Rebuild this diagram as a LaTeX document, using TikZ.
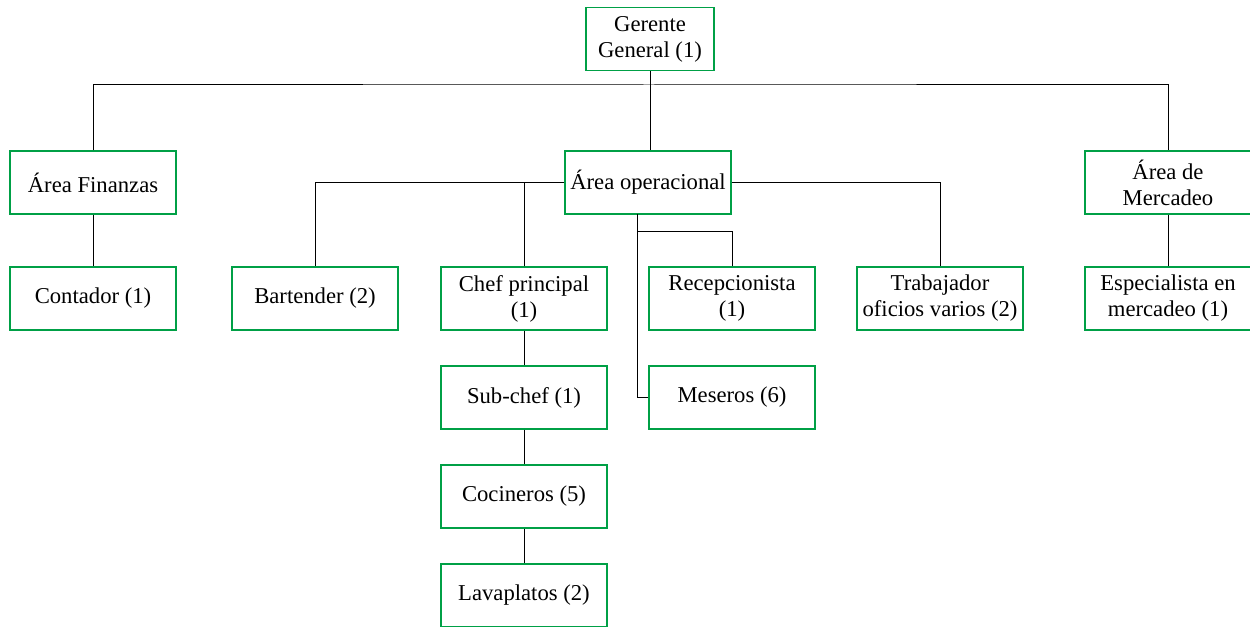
\documentclass[tikz,border=0pt]{standalone}
\usepackage{fontspec}
\setmainfont{Liberation Serif}
\definecolor{boxgreen}{RGB}{0,160,70}

\tikzset{every picture/.style={line width=0.75pt}}
\tikzset{
	puesto/.style={draw=boxgreen, fill=white, line width=0.9pt, minimum width=124.5pt, minimum height=47.25pt, inner sep=0pt, align=center, font=\fontsize{17}{19.5}\selectfont}
}

\begin{document}
\begin{tikzpicture}[x=0.75pt,y=0.75pt,yscale=-1,xscale=1]
	\useasboundingbox (0,0) rectangle (1250,627);

	% Text Node
	\node[puesto, minimum width=96pt] (gerente) at (650,39) {Gerente\\General (1)};
	% Text Node
	\node[puesto] (finanzas) at (93,182.5) {Área Finanzas};
	\node[puesto] (operacional) at (648,182.5) {Área operacional};
	\node[puesto] (mercadeo) at (1168,182.5) {Área de\\Mercadeo};
	% Text Node
	\node[puesto] (contador) at (93,298.5) {Contador (1)};
	\node[puesto] (bartender) at (315,298.5) {Bartender (2)};
	\node[puesto] (chef) at (524,298.5) {Chef principal\\(1)};
	\node[puesto] (recepcionista) at (732,298.5) {Recepcionista\\(1)};
	\node[puesto] (trabajador) at (940,298.5) {Trabajador\\oficios varios (2)};
	\node[puesto] (especialista) at (1168,298.5) {Especialista en\\mercadeo (1)};
	% Text Node
	\node[puesto] (subchef) at (524,397.5) {Sub-chef (1)};
	\node[puesto] (meseros) at (732,397.5) {Meseros (6)};
	\node[puesto] (cocineros) at (524,496.5) {Cocineros (5)};
	\node[puesto] (lavaplatos) at (524,595.5) {Lavaplatos (2)};

	\coordinate (bus) at (649,85);
	\coordinate (opb) at (637,214);
	\coordinate (opk) at (637,232);

	%Straight Lines
	\draw (gerente.south) -- (gerente.south |- operacional.north);
	\draw (finanzas.north) |- (bus) -| (mercadeo.north);
	\draw (finanzas) -- (contador);
	\draw (mercadeo) -- (especialista);
	%Straight Lines
	\draw (operacional.west) -| (bartender.north);
	\draw (chef.north) -- (chef.north |- operacional.west);
	\draw (operacional.east) -| (trabajador.north);
	\draw (opb) |- (meseros.west);
	\draw (opk) -| (recepcionista.north);
	%Straight Lines
	\draw (chef) -- (subchef);
	\draw (subchef) -- (cocineros);
	\draw (cocineros) -- (lavaplatos);

	\end{tikzpicture}
\end{document}
